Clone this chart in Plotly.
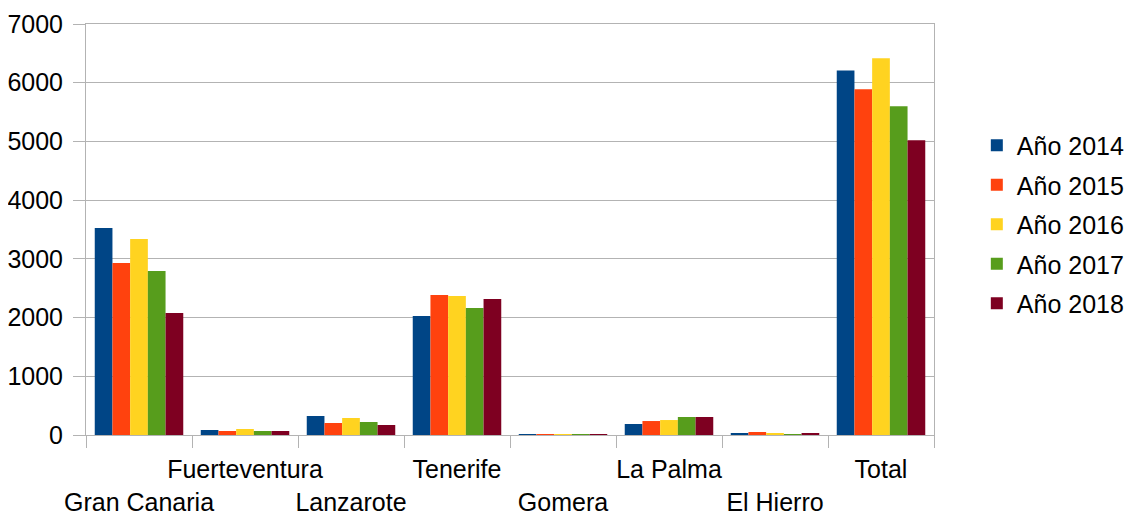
import plotly.graph_objects as go

categories = ["Gran Canaria", "Fuerteventura", "Lanzarote", "Tenerife",
              "Gomera", "La Palma", "El Hierro", "Total"]
series_names = ["Año 2014", "Año 2015", "Año 2016", "Año 2017", "Año 2018"]
v2014 = [3526, 85, 324, 2027, 17, 187, 34, 6210]
v2015 = [2930, 68, 204, 2385, 5, 238, 51, 5890]
v2016 = [3339, 102, 290, 2368, 17, 255, 34, 6415]
v2017 = [2794, 68, 221, 2164, 5, 307, 17, 5600]
v2018 = [2078, 68, 170, 2317, 17, 307, 34, 5020]
values = [v2014, v2015, v2016, v2017, v2018]
colors = ["#004586", "#ff420e", "#ffd320", "#579d1c", "#7e0021"]

# staggered tick labels (lower row for even indices)
tick_text = [("\u00a0<br>" + c) if i % 2 == 0 else c for i, c in enumerate(categories)]

FONT = "Liberation Sans, Arial, sans-serif"
fig = go.Figure()
for name, vals, col in zip(series_names, values, colors):
    fig.add_trace(go.Bar(x=categories, y=vals, name=name, marker_color=col,
                         marker_line_width=0, legendgroup=name))

grid = "#b3b3b3"
fig.update_layout(
    width=1134, height=508,
    margin=dict(l=78, r=205, t=16, b=81),
    paper_bgcolor="white", plot_bgcolor="white",
    barmode="group", bargap=0.165, bargroupgap=0,
    font=dict(family=FONT, size=25, color="black"),
    legend=dict(x=1.0505, xanchor="left", y=0.512, yanchor="middle",
                font=dict(size=25), tracegroupgap=4, itemwidth=30),
    showlegend=True,
)
fig.update_xaxes(
    tickmode="array", tickvals=categories, ticktext=tick_text,
    tickson="boundaries", ticks="outside", ticklen=12, tickcolor=grid,
    showline=True, linecolor=grid, linewidth=1, mirror=True,
    showgrid=False, tickfont=dict(size=25), tickangle=0, automargin=False,
    ticklabelstandoff=12,
)
fig.update_yaxes(
    range=[0, 7000], dtick=1000, ticks="outside", ticklen=12, tickcolor=grid,
    showgrid=True, gridcolor=grid, gridwidth=1,
    showline=True, linecolor=grid, linewidth=1, mirror=True,
    zeroline=False, tickfont=dict(size=25), automargin=False,
    ticklabelstandoff=5,
)
fig.write_html("out.html")
